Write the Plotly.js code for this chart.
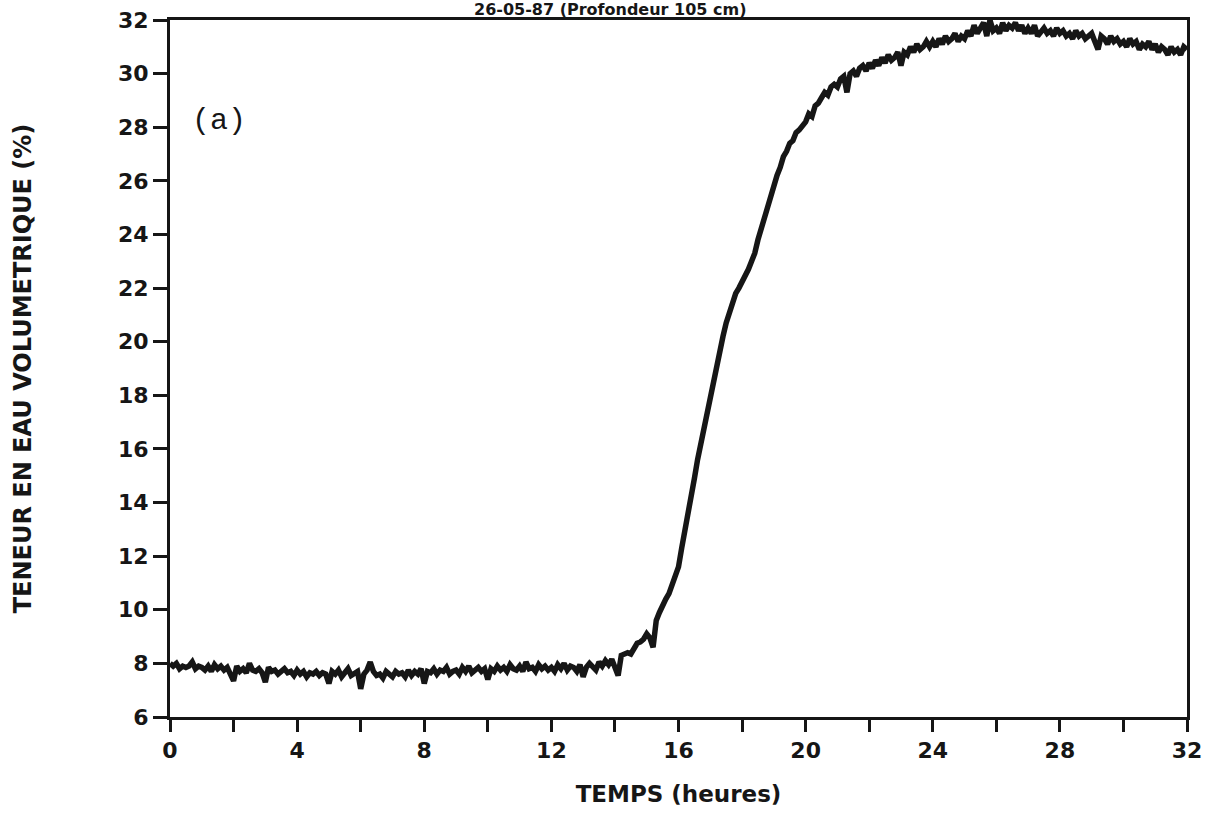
<!DOCTYPE html>
<html>
<head>
<meta charset="utf-8">
<script src="https://cdn.plot.ly/plotly-3.0.1.min.js"></script>
<style>html,body{margin:0;padding:0;background:#fff;}#chart{width:1221px;height:814px;}</style>
</head>
<body>
<div id="chart"></div>
<script>
// Time step of the readings (hours), starting at 0
const timeStart = 0;
const timeStep = 0.1;
// Volumetric water content (%) read every 0.1 h, from 0 h to 32 h
const waterContent = [
  8.0, 7.9, 8.0, 7.8, 7.9, 7.85, 7.9, 8.05, 7.8, 7.9,
  7.85, 7.75, 7.9, 7.7, 7.95, 7.8, 7.9, 7.75, 7.85, 7.6,
  7.35, 7.9, 7.7, 7.8, 7.65, 8.0, 7.75, 7.7, 7.8, 7.65,
  7.3, 7.85, 7.7, 7.75, 7.6, 7.7, 7.8, 7.65, 7.7, 7.55,
  7.75, 7.6, 7.7, 7.5, 7.65, 7.6, 7.7, 7.55, 7.65, 7.6,
  7.25, 7.7, 7.6, 7.75, 7.5, 7.65, 7.8, 7.55, 7.6, 7.7,
  7.05, 7.6, 7.75, 8.05, 7.7, 7.55, 7.6, 7.45, 7.7, 7.6,
  7.5, 7.7, 7.6, 7.65, 7.5, 7.75, 7.55, 7.7, 7.6, 7.8,
  7.25, 7.7, 7.65, 7.8, 7.6, 7.75, 7.7, 7.85, 7.6, 7.7,
  7.75, 7.6, 7.85, 7.7, 7.9, 7.65, 7.75, 7.85, 7.7, 7.8,
  7.4, 7.8, 7.7, 7.9, 7.75, 7.85, 7.7, 7.95, 7.8, 7.75,
  7.9, 7.7, 8.05, 7.8, 7.85, 7.7, 7.95, 7.8, 7.9, 7.75,
  7.85, 7.7, 7.95, 7.8, 8.0, 7.75, 7.9, 7.85, 7.7, 7.95,
  7.5, 7.85, 8.0, 7.9, 7.75, 8.05, 7.9, 8.1, 7.95, 8.15,
  7.9, 7.55, 8.3, 8.35, 8.4, 8.35, 8.6, 8.75, 8.8, 8.9,
  9.1, 8.95, 8.6, 9.6, 9.9, 10.2, 10.4, 10.6, 10.9, 11.2,
  11.6, 12.3, 12.9, 13.6, 14.2, 14.9, 15.6, 16.2, 16.8, 17.3,
  17.9, 18.5, 19.1, 19.7, 20.2, 20.7, 21.1, 21.5, 21.8, 22.0,
  22.2, 22.4, 22.7, 23.0, 23.3, 23.8, 24.2, 24.7, 25.1, 25.5,
  25.9, 26.2, 26.5, 26.9, 27.1, 27.4, 27.5, 27.8, 27.9, 28.1,
  28.2, 28.5, 28.4, 28.8, 28.9, 29.1, 29.3, 29.2, 29.5, 29.6,
  29.5, 29.8, 29.9, 29.3, 30.0, 30.1, 29.9, 30.2, 30.3, 30.1,
  30.4, 30.2, 30.5, 30.3, 30.6, 30.4, 30.7, 30.5, 30.6, 30.8,
  30.3, 30.8, 30.7, 31.0, 30.8, 31.1, 30.9, 31.0, 31.2, 31.0,
  31.2, 31.0, 31.3, 31.1, 31.4, 31.2, 31.3, 31.5, 31.2, 31.4,
  31.3, 31.6, 31.4, 31.8, 31.5, 31.7, 31.9, 31.4, 32.0, 31.6,
  31.7, 31.5, 31.9, 31.6, 31.8, 31.7, 31.9, 31.6, 31.8, 31.5,
  31.7, 31.5, 31.8, 31.4, 31.6, 31.7, 31.5, 31.6, 31.4, 31.7,
  31.5, 31.6, 31.4, 31.5, 31.3, 31.6, 31.4, 31.5, 31.3, 31.4,
  31.5, 31.2, 30.9, 31.4, 31.3, 31.1, 31.4, 31.2, 31.3, 31.1,
  31.2, 31.0, 31.3, 31.1, 31.2, 30.9, 31.1, 31.0, 31.2, 30.9,
  31.1, 30.8, 31.0, 30.9, 30.7, 31.0, 30.8, 30.9, 30.7, 31.0,
  30.9
];
const xTickValues = [0, 4, 8, 12, 16, 20, 24, 28, 32];
const yTickValues = [6, 8, 10, 12, 14, 16, 18, 20, 22, 24, 26, 28, 30, 32];

const hours = waterContent.map((_, i) => +(timeStart + i * timeStep).toFixed(2));

const ink = '#161616';
const boldFont = {family: 'DejaVu Sans', size: 22, color: ink, weight: 'bold'};

const trace = {
  x: hours, y: waterContent, type: 'scatter', mode: 'lines',
  line: {color: ink, width: 5.5, shape: 'linear'},
  hoverinfo: 'skip'
};

const layout = {
  width: 1221, height: 814,
  margin: {l: 170, r: 34, t: 20, b: 97},
  paper_bgcolor: '#ffffff', plot_bgcolor: '#ffffff',
  showlegend: false,
  xaxis: {
    range: [0, 32], tickvals: xTickValues, ticktext: xTickValues.map(String),
    ticks: 'outside', ticklen: 12, tickwidth: 3, tickcolor: ink,
    minor: {dtick: 2, ticks: 'outside', ticklen: 12, tickwidth: 3, tickcolor: ink, showgrid: false},
    showline: true, linewidth: 3, linecolor: ink, mirror: true,
    showgrid: false, zeroline: false,
    tickfont: boldFont,
    title: {text: 'TEMPS (heures)', font: {family: 'DejaVu Sans', size: 23, color: ink, weight: 'bold'}, standoff: 24}
  },
  yaxis: {
    range: [6, 32], tickvals: yTickValues, ticktext: yTickValues.map(String),
    ticks: 'outside', ticklen: 14, tickwidth: 3, tickcolor: ink,
    showline: true, linewidth: 3, linecolor: ink, mirror: true,
    showgrid: false, zeroline: false,
    tickfont: boldFont,
    title: {text: 'TENEUR EN EAU VOLUMETRIQUE (%)', font: {family: 'DejaVu Sans', size: 24, color: ink, weight: 'bold'}, standoff: 80}
  },
  annotations: [
    {text: '(a)', xref: 'paper', yref: 'paper', x: 0.02, y: 0.855, xanchor: 'left', yanchor: 'middle',
     showarrow: false, font: {family: 'Liberation Mono', size: 30, color: ink}},
    {text: '26-05-87 (Profondeur 105 cm)', xref: 'paper', yref: 'paper', x: 0.433, y: 1.0, yshift: 11, xanchor: 'center', yanchor: 'middle',
     showarrow: false, font: {family: 'DejaVu Sans', size: 16, color: ink, weight: 'bold'}}
  ]
};

Plotly.newPlot('chart', [trace], layout, {displayModeBar: false, staticPlot: true});
</script>
</body>
</html>
